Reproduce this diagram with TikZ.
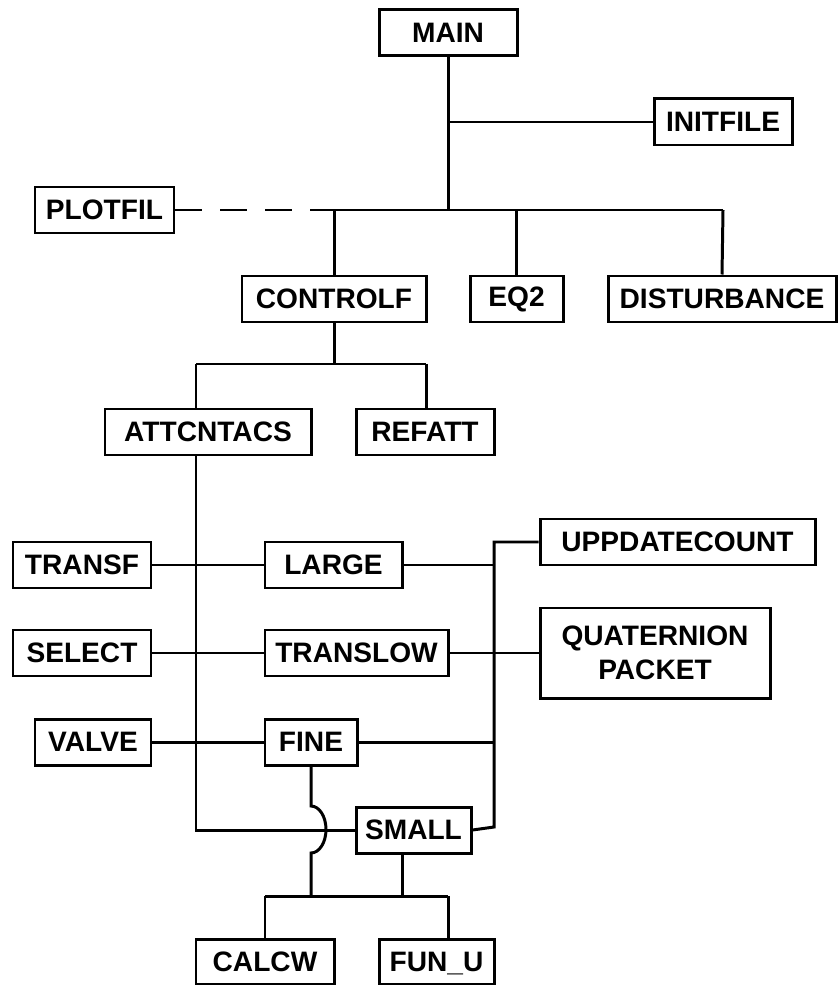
\documentclass[tikz,border=0pt]{standalone}
\usepackage{fontspec}
\setmainfont{Liberation Sans}
\usepackage{tikz}
\usetikzlibrary{positioning,calc}

\begin{document}
\begin{tikzpicture}[
    modbox/.style={rectangle, draw=black, line width=1.7pt, fill=white,
                   minimum height=0.92cm, inner sep=0pt, align=center,
                   font=\fontsize{16}{19}\selectfont\bfseries},
    link/.style={line width=1.7pt, draw=black},
    optlink/.style={link, dash pattern=on 0.54cm off 0.36cm}
  ]
    \useasboundingbox (0,0) rectangle (16.76,-19.70);

    % Top level
    \node[modbox, minimum width=2.76cm] (main) at (8.96, -0.66) {MAIN};
    \node[modbox, minimum width=2.76cm] (initfile) at (14.46, -2.44) {INITFILE};
    \node[modbox, minimum width=2.78cm] (plotfil) at (2.09, -4.20) {PLOTFIL};
    \coordinate (inittap) at (8.96, -2.44);
    \coordinate (busl) at (6.20, -4.20);
    \coordinate (busm) at (8.96, -4.20);
    \coordinate (busr) at (14.46, -4.20);
    \draw[link] (main.south) -- (busm);
    \draw[link] (inittap) -- (initfile.west);
    \draw[optlink] (plotfil.east) -- (busl);
    \draw[link] (busl) -- (busr);

    % Second level
    \node[modbox, minimum width=3.68cm] (controlf) at (6.68, -5.98) {CONTROLF};
    \node[modbox, minimum width=1.86cm] (eq2) at (10.33, -5.98) {EQ2};
    \node[modbox, minimum width=4.56cm] (disturb) at (14.44, -5.98) {DISTURBANCE};
    \draw[link] (controlf.north) -- (controlf.north |- busl);
    \draw[link] (eq2.north) -- (eq2.north |- busl);
    \draw[link] (disturb.north) -- (busr);

    % Controller branch
    \node[modbox, minimum width=4.12cm] (attcntacs) at (4.16, -8.64) {ATTCNTACS};
    \node[modbox, minimum width=2.76cm] (refatt) at (8.50, -8.64) {REFATT};
    \coordinate (ctrll) at (3.92, -7.28);
    \coordinate (ctrlr) at (8.52, -7.28);
    \draw[link] (controlf.south) -- (controlf.south |- ctrll);
    \draw[link] (ctrll) -- (ctrlr);
    \draw[link] (ctrll) -- (ctrll |- attcntacs.north);
    \draw[link] (ctrlr) -- (ctrlr |- refatt.north);

    % Mode routines
    \node[modbox, minimum width=2.76cm] (transf) at (1.64, -11.30) {TRANSF};
    \node[modbox, minimum width=2.74cm] (large) at (6.67, -11.30) {LARGE};
    \node[modbox, minimum width=5.50cm] (uppdate) at (13.55, -10.84) {UPPDATECOUNT};
    \node[modbox, minimum width=2.76cm] (select) at (1.64, -13.06) {SELECT};
    \node[modbox, minimum width=3.66cm] (translow) at (7.13, -13.06) {TRANSLOW};
    \node[modbox, minimum width=4.60cm, minimum height=1.80cm] (quat) at (13.10, -13.06)
      {QUATERNION\\PACKET};
    \node[modbox, minimum width=2.32cm] (valve) at (1.86, -14.84) {VALVE};
    \node[modbox, minimum width=1.84cm] (fine) at (6.22, -14.84) {FINE};
    \node[modbox, minimum width=2.30cm] (small) at (8.27, -16.60) {SMALL};

    % Trunk from ATTCNTACS down to SMALL
    \coordinate (trunktop) at (3.92, -9.08);
    \coordinate (trunkbot) at (3.92, -16.60);
    \draw[link] (trunktop) -- (trunkbot) -- (small.west);

    % Right-hand bus to UPPDATECOUNT
    \coordinate (rbustop) at (9.88, -10.84);
    \coordinate (rbusbot) at (9.88, -16.54);
    \draw[link] (uppdate.west) -- (rbustop) -- (rbusbot) -- (small.east);
    \draw[link] (large.east) -- (large.east -| rbustop);
    \draw[link] (fine.east) -- (fine.east -| rbustop);
    \draw[link] (translow.east) -- (quat.west);

    % Left-hand calls
    \draw[link] (transf.east) -- (large.west);
    \draw[link] (select.east) -- (translow.west);
    \draw[link] (valve.east) -- (fine.west);

    % Bottom level
    \node[modbox, minimum width=2.76cm, minimum height=0.90cm] (calcw) at (5.30, -19.24) {CALCW};
    \node[modbox, minimum width=2.30cm, minimum height=0.90cm, text depth=0pt] (funu) at (8.73, -19.24) {FUN\_U};
    \coordinate (botl) at (5.30, -17.92);
    \coordinate (botr) at (8.96, -17.92);
    \coordinate (jumptop) at (6.22, -16.12);
    \draw[link] (fine.south) -- (jumptop)
      arc[start angle=90, end angle=-90, x radius=0.30cm, y radius=0.47cm]
      -- (fine.south |- botl);
    \draw[link] (8.04, -17.06) -- (8.04, -17.92);
    \draw[link] (botl) -- (botr);
    \draw[link] (botl) -- (calcw.north);
    \draw[link] (botr) -- (botr |- funu.north);
  \end{tikzpicture}
\end{document}
